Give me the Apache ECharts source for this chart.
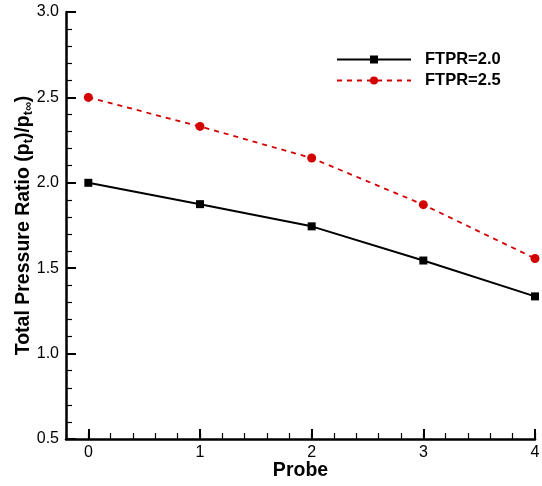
<!DOCTYPE html>
<html><head><meta charset="utf-8">
<script src="https://cdn.jsdelivr.net/npm/echarts@6/dist/echarts.min.js"></script>
<style>html,body{margin:0;padding:0;background:#fff}#c{width:542px;height:486px}</style>
</head><body><div id="c"></div>
<script>
const probes = [0, 1, 2, 3, 4];
const ftpr20 = [2.0, 1.875, 1.745, 1.545, 1.335];
const ftpr25 = [2.5, 2.33, 2.145, 1.872, 1.557];
const seriesNames = ['FTPR=2.0', 'FTPR=2.5'];
const xMajorTicks = [0, 1, 2, 3, 4];

const FONT = 'Liberation Sans';
const chart = echarts.init(document.getElementById('c'));
const zip = (xs, ys) => xs.map((x, i) => [x, ys[i]]);
chart.setOption({
  animation: false,
  backgroundColor: '#fff',
  grid: { left: 66, top: 12, right: 7, bottom: 47, containLabel: false, outerBoundsMode: 'none' },
  legend: {
    left: 331, top: 46, orient: 'vertical', itemWidth: 74, itemHeight: 10, itemGap: 4,
    data: seriesNames,
    textStyle: { fontFamily: FONT, fontWeight: 'bold', fontSize: 16.5, color: '#000', padding: [0, 0, 0, 9] }
  },
  xAxis: [{
    type: 'value', min: -0.2, max: 4, interval: 0.2,
    name: 'Probe', nameLocation: 'middle', nameGap: 22,
    nameTextStyle: { fontFamily: FONT, fontWeight: 'bold', fontSize: 19.5, color: '#000' },
    axisLine: { show: true, onZero: false, lineStyle: { color: '#000', width: 2.5 } },
    axisTick: { show: true, inside: true, length: 6, lineStyle: { color: '#000', width: 1.2 } },
    axisLabel: { show: false },
    splitLine: { show: false }
  }, {
    type: 'value', min: -0.2, max: 4, position: 'bottom',
    axisLine: { show: false },
    axisTick: { show: true, inside: true, length: 10, customValues: xMajorTicks, lineStyle: { color: '#000', width: 2 } },
    axisLabel: { show: true, customValues: xMajorTicks, fontFamily: FONT, fontSize: 16, color: '#000', margin: 6 },
    splitLine: { show: false }
  }],
  yAxis: {
    type: 'value', min: 0.5, max: 3.0, interval: 0.5,
    name: '{a|Total Pressure Ratio (p}{s|t}{a|)/p}{s|t∞}{a|)}',
    nameLocation: 'middle', nameGap: 31, nameMoveOverlap: false,
    nameTextStyle: {
      rich: {
        a: { fontFamily: FONT, fontWeight: 'bold', fontSize: 19.5, color: '#000' },
        s: { fontFamily: FONT, fontWeight: 'bold', fontSize: 12.5, color: '#000', padding: [9, 0, 0, 0] }
      }
    },
    axisLine: { show: true, onZero: false, lineStyle: { color: '#000', width: 2.5 } },
    axisTick: { show: true, inside: true, length: 10, lineStyle: { color: '#000', width: 2 } },
    minorTick: { show: true, splitNumber: 5, length: 6, lineStyle: { color: '#000', width: 1.2 } },
    axisLabel: { fontFamily: FONT, fontSize: 16, color: '#000', margin: 7, formatter: v => v.toFixed(1) },
    splitLine: { show: false }
  },
  series: [{
    name: seriesNames[0], type: 'line', data: zip(probes, ftpr20),
    symbol: 'rect', symbolSize: 8, color: '#000',
    lineStyle: { color: '#000', width: 2 }, itemStyle: { color: '#000' }
  }, {
    name: seriesNames[1], type: 'line', data: zip(probes, ftpr25),
    symbol: 'circle', symbolSize: 9, color: '#d40000',
    lineStyle: { color: '#d40000', width: 1.8, type: [5, 5] }, itemStyle: { color: '#d40000' }
  }]
});
</script></body></html>
